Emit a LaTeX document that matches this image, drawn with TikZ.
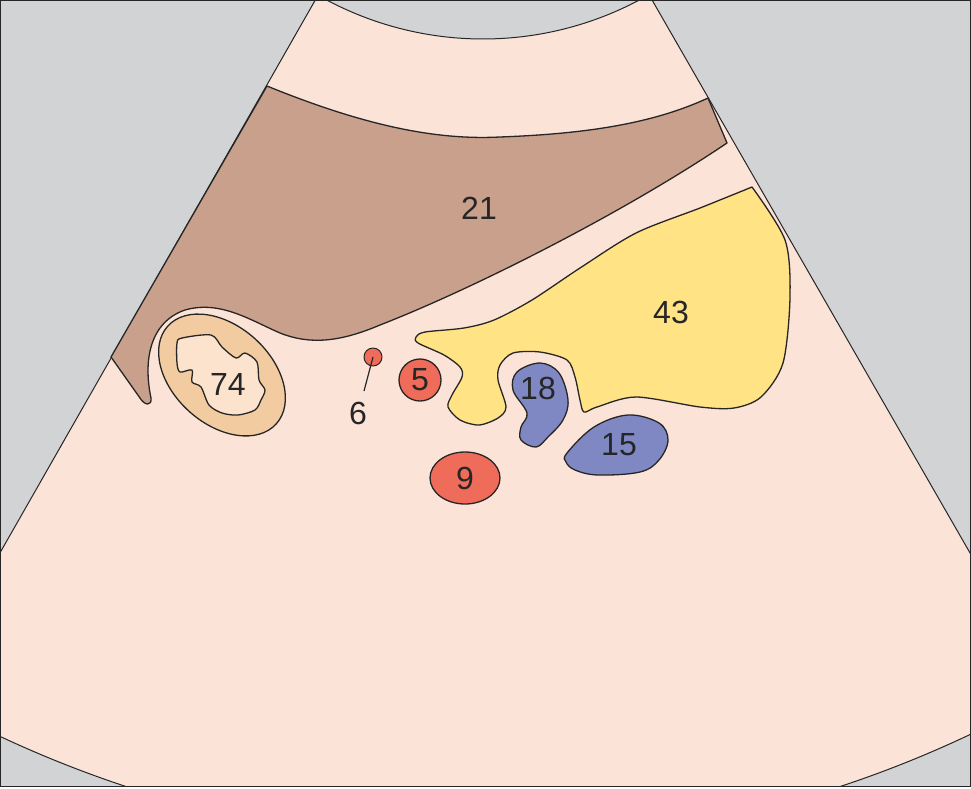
\documentclass[tikz,border=0pt]{standalone}
\usepackage{fontspec}
\setmainfont{Liberation Sans}
\usetikzlibrary{shapes.geometric,calc}
\definecolor{bggray}{HTML}{D1D3D4}
\definecolor{tissue}{HTML}{FCE3D8}
\definecolor{liver}{HTML}{C9A08C}
\definecolor{gall}{HTML}{FFE384}
\definecolor{vein}{HTML}{8088C4}
\definecolor{artery}{HTML}{EF6B5A}
\definecolor{ringc}{HTML}{F2CBA0}
\definecolor{corec}{HTML}{FCE3CE}
\tikzset{
every picture/.style={
line width=1.3pt
},
organ/.style={draw=black!85, line join=round},
lbl/.style={font=\fontsize{32}{36}\selectfont, text=black!85, inner sep=0pt},
vessel/.style={organ, fill=artery, inner sep=0pt}
}
\begin{document}
\begin{tikzpicture}[x=1pt,y=-1pt]
\useasboundingbox (0,0) rectangle (971,788);
\fill[bggray] (0,0) rectangle (970,786);
\coordinate (apex) at (483,-294);
\begin{scope}
\clip (0,0) rectangle (970,786);
% sector
\draw[organ, fill=tissue, line width=1pt] ($(apex)+(119.7:333)$) -- ($(apex)+(119.7:1138)$)
  arc[start angle=119.7, end angle=60.1, radius=1138] -- ($(apex)+(60.1:333)$)
  arc[start angle=60.1, end angle=119.7, radius=333] -- cycle;
\end{scope}
\draw[black!85, line width=0.8pt] (0,0) rectangle (970,786);

% liver band
\draw[organ, fill=liver] (267,86) .. controls (370,128) and (440,140) .. (500,137)
  .. controls (580,134) and (650,125) .. (708,98) -- (727,143)
  .. controls (620,215) and (470,290) .. (380,325)
  .. controls (340,342) and (310,345) .. (280,333)
  .. controls (250,320) and (220,300) .. (185,310)
  .. controls (150,322) and (143,360) .. (151,398)
  .. controls (152,406) and (145,406) .. (140,398) -- (111,357) -- cycle;
\node[lbl] (n21) at (479,208) {21};

% gall bladder
\draw[organ, fill=gall] plot[smooth, tension=0.5] coordinates {(752,187) (785,240) (790,297)
  (783,363) (761,397) (734,408) (700,407) (636,397) (597,407) (584,412) (580,400) (575,377)
  (567,360) (540,352) (513,353) (500,365) (498,380) (506,407) (498,418) (479,425) (460,420)
  (448,407) (452,395) (462,377) (460,367) (444,355) (418,343) (416,337) (425,332) (464,328)
  (494,320) (532,300) (580,268) (636,233) (700,208) (752,187)} -- cycle;
\node[lbl] (n43) at (671,312) {43};

% veins
\draw[organ, fill=vein] plot[smooth cycle, tension=0.6] coordinates {(517,372) (540,363)
  (559,373) (568,400) (563,420) (548,437) (536,447) (521,440) (521,427) (527,413) (513,390)};
\node[lbl] (n18) at (538,388) {18};
\draw[organ, fill=vein] plot[smooth cycle, tension=0.6] coordinates {(567,453) (594,427)
  (628,415) (659,423) (668,440) (659,460) (640,472) (598,475) (575,470) (566,462)};
\node[lbl] (n15) at (619,445) {15};

% kidney
\draw[organ, fill=ringc, rotate around={-42:(222,375)}] (222,375) ellipse[x radius=73, y radius=49];
\draw[organ, fill=corec] plot[smooth cycle, tension=0.5] coordinates {(177,343) (182,338)
  (211,335) (222,347) (236,358) (245,353) (257,362) (259,380) (265,390) (261,400) (255,410)
  (238,415) (222,413) (209,405) (201,387) (192,382) (192,370) (180,372) (177,363)};
\node[lbl] (n74) at (228,384) {74};

% arteries
\node[vessel, ellipse, minimum width=70pt, minimum height=52pt, lbl] (n9) at (465,478) {9};
\node[vessel, circle, minimum size=42pt, lbl] (n5) at (420,380) {5};
\node[vessel, circle, minimum size=18pt, line width=1pt] (dot6) at (373,357) {};
\node[lbl] (n6) at (358,413) {6};
\draw[black!85, line width=1.2pt] ([xshift=6pt, yshift=10pt]n6.north) -- (dot6.center);
\end{tikzpicture}
\end{document}
